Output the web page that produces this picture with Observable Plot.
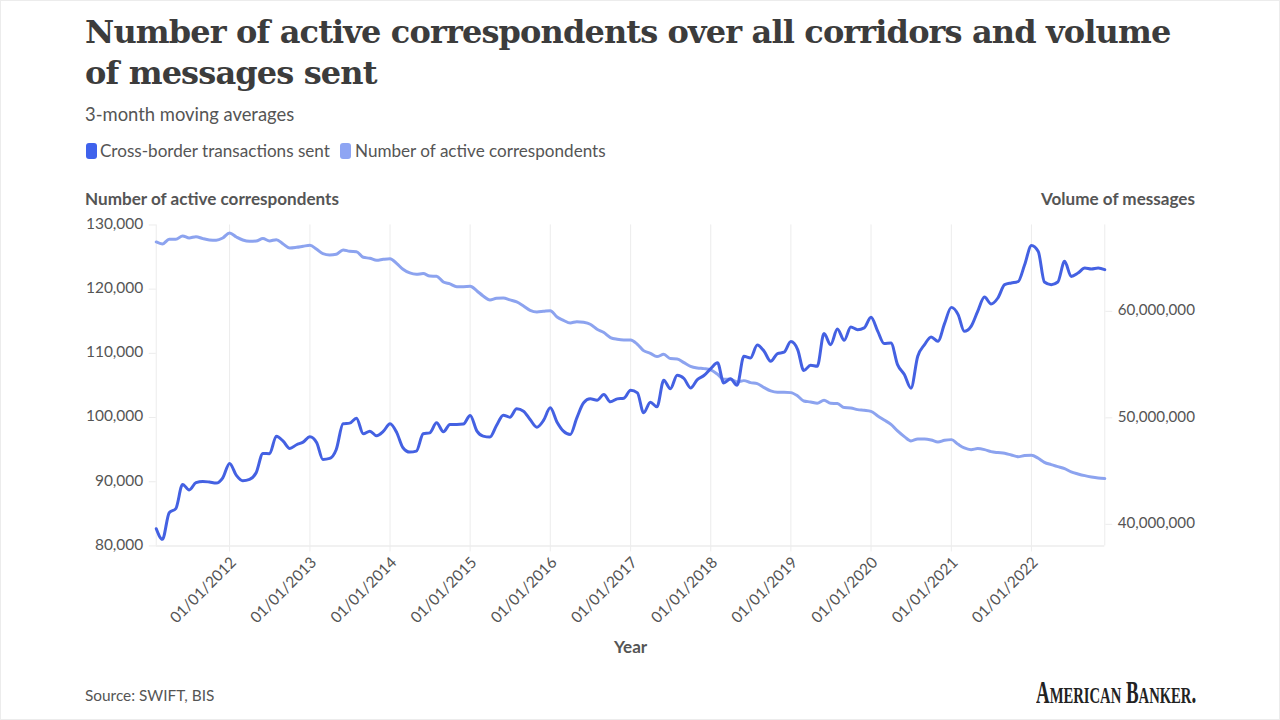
<!DOCTYPE html>
<html>
<head>
<meta charset="utf-8">
<script src="https://cdn.jsdelivr.net/npm/d3@7"></script>
<script src="https://cdn.jsdelivr.net/npm/@observablehq/plot@0.6"></script>
<style>
html,body{margin:0;padding:0;background:#fff;}
#page{position:relative;width:1280px;height:720px;overflow:hidden;box-sizing:border-box;border:1px solid #ececec;font-family:Lato,sans-serif;color:#555;}
#page>div{position:absolute;white-space:nowrap;}
#title{left:84px;top:11px;font-family:"DejaVu Serif",serif;font-weight:700;font-size:32px;line-height:41px;color:#3c3c3c;letter-spacing:-0.87px;}
#subtitle{left:84px;top:102px;font-size:18.4px;line-height:22px;color:#555;}
.sw{width:11px;height:16px;border-radius:3px;top:142px;}
.lg{top:140px;font-size:17.1px;line-height:20px;color:#555;}
.axt{top:188px;font-size:17.1px;line-height:20px;font-weight:700;color:#555;}
#svgwrap{left:0;top:188.6px;}
#source{left:84px;top:685px;font-size:15.4px;line-height:18px;color:#555;}
#logo{left:1035px;top:677px;font-family:"Liberation Serif",serif;font-weight:700;font-size:31px;line-height:30px;color:#222;transform:scaleX(0.61);transform-origin:left top;}
#logo span{font-size:24px;}
</style>
</head>
<body>
<div id="page">
<div id="title">Number of active correspondents over all corridors and volume<br>of messages sent</div>
<div id="subtitle">3-month moving averages</div>
<div class="sw" style="left:85px;background:#3f62ec"></div>
<div class="lg" style="left:99px">Cross-border transactions sent</div>
<div class="sw" style="left:339px;background:#8ea5f3"></div>
<div class="lg" style="left:354px">Number of active correspondents</div>
<div id="svgwrap"></div>
<div class="axt" style="left:84px">Number of active correspondents</div>
<div class="axt" style="right:84px">Volume of messages</div>
<div id="source">Source: SWIFT, BIS</div>
<div id="logo">A<span>MERICAN</span> B<span>ANKER</span>.</div>
</div>
<script>
const startMonth = new Date(Date.UTC(2011, 1, 1));
const volumeMillions = [
39.59,38.59,41.09,41.47,43.75,43.22,43.91,44.03,43.97,43.87,44.37,45.72,
44.59,44.09,44.22,44.84,46.66,46.63,48.28,47.81,47.12,47.47,47.72,48.22,
47.66,46.09,46.19,47.03,49.44,49.50,49.97,48.50,48.75,48.31,48.72,49.44,
48.59,47.19,46.78,46.87,48.50,48.59,49.53,48.69,49.37,49.37,49.41,50.22,
48.75,48.28,48.19,49.28,50.25,50.06,50.84,50.62,49.84,49.12,49.75,50.94,
49.59,48.75,48.44,50.00,51.41,51.78,51.66,52.19,51.50,51.78,51.84,52.59,
52.34,50.47,51.47,51.03,53.53,52.72,54.00,53.69,52.81,53.59,53.97,54.62,
55.16,53.28,53.66,53.06,55.78,55.62,56.84,56.25,55.31,56.03,56.16,57.16,
56.41,54.44,54.94,54.84,57.91,56.87,58.34,57.28,58.53,58.28,58.44,59.44,
58.12,56.97,57.03,55.00,54.06,52.78,55.78,56.87,57.59,57.19,58.84,60.37,
59.69,58.12,58.59,60.00,61.34,60.69,61.25,62.50,62.66,62.78,64.37,66.19,
65.62,62.75,62.50,62.75,64.69,63.28,63.59,64.06,63.97,64.06,63.91];
const correspondentsK = [
127.35,127.04,127.77,127.77,128.29,127.97,128.18,127.87,127.66,127.61,127.97,128.75,
128.13,127.66,127.45,127.51,127.87,127.51,127.71,127.04,126.42,126.52,126.68,126.83,
126.21,125.53,125.33,125.43,126.10,125.90,125.84,124.96,124.81,124.49,124.65,124.75,
123.98,123.09,122.52,122.31,122.42,122.05,122.00,121.12,120.81,120.39,120.39,120.44,
119.72,118.94,118.32,118.58,118.63,118.32,118.00,117.38,116.71,116.45,116.55,116.65,
115.67,115.15,114.73,114.94,114.84,114.53,113.75,113.23,112.45,112.19,112.09,112.09,
111.41,110.42,110.01,109.49,109.85,109.18,109.13,108.55,107.98,107.72,107.62,107.41,
106.74,105.96,105.96,105.54,105.75,105.44,105.28,104.66,104.14,103.93,103.93,103.88,
103.36,102.58,102.43,102.22,102.69,102.22,102.17,101.55,101.49,101.23,101.13,100.97,
100.25,99.62,98.95,97.91,97.03,96.35,96.66,96.66,96.51,96.20,96.46,96.56,
95.83,95.26,95.00,95.16,95.00,94.69,94.54,94.43,94.17,93.91,94.07,94.12,
93.65,93.03,92.67,92.36,92.04,91.52,91.21,90.95,90.75,90.59,90.49];
const leftTicks = [80000,90000,100000,110000,120000,130000];
const rightTicks = [40000000,50000000,60000000];
const yearTicks = d3.range(2012,2023).map(y => new Date(Date.UTC(y,0,1)));

const toLeft = d3.scaleLinear([37.97e6,68.11e6],[80000,130000]);
const months = volumeMillions.map((_,i) => d3.utcMonth.offset(startMonth,i));
const volume = months.map((date,i) => ({date, y: toLeft(volumeMillions[i]*1e6)}));
const correspondents = months.map((date,i) => ({date, y: correspondentsK[i]*1000}));
const fmt = d3.format(",");
const dateFmt = d3.utcFormat("%m/%d/%Y");
const xDomain = [months[0], months[months.length-1]];
const gridColor = "#ececec";
const rightPositions = rightTicks.map(v => toLeft(v));

const chart = Plot.plot({
  width:1280, height:475,
  marginLeft:155, marginRight:175, marginTop:34.5, marginBottom:119,
  style:{fontFamily:"Lato,sans-serif",fontSize:"15.5px",color:"#555",background:"transparent"},
  x:{type:"utc",domain:xDomain},
  y:{type:"linear",domain:[80000,130000]},
  marks:[
    Plot.ruleX(yearTicks,{stroke:gridColor,strokeWidth:1}),
    Plot.ruleX([xDomain[0],xDomain[1]],{stroke:gridColor,strokeWidth:1}),
    Plot.ruleY([80000],{stroke:gridColor,strokeWidth:1.5}),
    Plot.axisX({ticks:yearTicks,tickSize:6,stroke:gridColor,fill:"none",label:null}),
    Plot.axisX({ticks:yearTicks,tickFormat:dateFmt,tickRotate:-45,tickSize:0,tickPadding:10,dx:4,dy:4,fill:"#555",label:null,textStroke:"none"}),
    Plot.axisY({anchor:"left",ticks:leftTicks,tickSize:7,stroke:gridColor,fill:"none",label:null}),
    Plot.axisY({anchor:"left",ticks:leftTicks,tickFormat:fmt,tickSize:0,tickPadding:12,dx:-1,dy:-1,fill:"#555",label:null}),
    Plot.axisY({anchor:"right",ticks:rightPositions,tickSize:7,stroke:gridColor,fill:"none",label:null}),
    Plot.axisY({anchor:"right",ticks:rightPositions,tickFormat:d=>fmt(Math.round(toLeft.invert(d)/1e6)*1e6),tickSize:0,tickPadding:13,dy:-1,fontSize:15.2,fill:"#555",label:null}),
    Plot.line(correspondents,{x:"date",y:"y",stroke:"#8ca3ef",strokeWidth:3,curve:"monotone-x"}),
    Plot.line(volume,{x:"date",y:"y",stroke:"#4461e2",strokeWidth:3,curve:"monotone-x"}),
    Plot.text(["Year"],{frameAnchor:"bottom",dy:107,fontWeight:700,fontSize:17.1,fill:"#555"})
  ]
});
document.getElementById("svgwrap").appendChild(chart);
</script>
</body>
</html>
